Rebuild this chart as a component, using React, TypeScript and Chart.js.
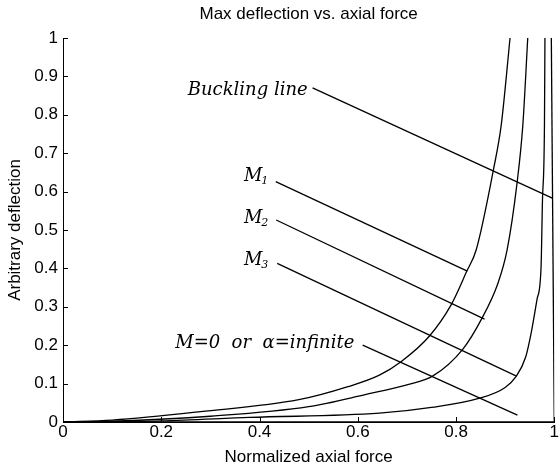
import React, { useEffect, useRef } from "react";
import { Chart, registerables } from "chart.js";

Chart.register(...registerables);

const xTicks = [0, 0.2, 0.4, 0.6, 0.8, 1];
const yTicks = [0, 0.1, 0.2, 0.3, 0.4, 0.5, 0.6, 0.7, 0.8, 0.9, 1];

const m1X = [0, 0.1, 0.28, 0.48, 0.58, 0.644, 0.688, 0.746, 0.79, 0.822, 0.841, 0.876, 0.892, 0.91];
const m1Y = [0, 0.005, 0.027, 0.058, 0.092, 0.122, 0.157, 0.224, 0.305, 0.393, 0.448, 0.656, 0.773, 1.0];

const m2X = [0, 0.1, 0.3, 0.5, 0.617, 0.7, 0.753, 0.814, 0.851, 0.885, 0.904, 0.924, 0.936, 0.946];
const m2Y = [0, 0.002, 0.015, 0.04, 0.072, 0.097, 0.12, 0.19, 0.266, 0.36, 0.448, 0.62, 0.773, 1.0];

const m3X = [0, 0.2, 0.38, 0.644, 0.75, 0.848, 0.9, 0.922, 0.942, 0.953, 0.965, 0.973, 0.976, 0.98, 0.981];
const m3Y = [0, 0.003, 0.012, 0.023, 0.038, 0.062, 0.09, 0.118, 0.17, 0.232, 0.32, 0.4, 0.578, 0.77, 1.0];

const m0X = [0, 1];
const m0Y = [0, 0];

const bucklingX = [1, 0.994];
const bucklingY = [0, 1];

const labelTexts = ["Buckling line", "M", "M", "M", "M=0  or  \u03b1=infinite"];
const labelSubs = ["", "1", "2", "3", ""];
const labelX = [0.498, 0.42, 0.42, 0.42, 0.593];
const labelY = [0.865, 0.641, 0.531, 0.422, 0.206];
const pointerX0 = [0.508, 0.433, 0.434, 0.436, 0.61];
const pointerY0 = [0.87, 0.626, 0.526, 0.413, 0.2];
const pointerX1 = [0.996, 0.823, 0.858, 0.922, 0.925];
const pointerY1 = [0.583, 0.393, 0.268, 0.12, 0.018];

const toPts = (xs: number[], ys: number[]) => xs.map((x, i) => ({ x, y: ys[i] }));

const SANS = "'Liberation Sans', Arial, sans-serif";
const SERIF = "'DejaVu Serif', serif";

const annotationPlugin = {
  id: "annotations",
  afterDraw(chart: any) {
    const { ctx, scales } = chart;
    const xs = scales.x;
    const ys = scales.y;
    ctx.save();
    ctx.strokeStyle = "#000";
    ctx.lineWidth = 1;
    const area = chart.chartArea;
    xTicks.forEach((v) => {
      const px = Math.round(xs.getPixelForValue(v)) + 0.5;
      ctx.beginPath();
      ctx.moveTo(px, area.bottom);
      ctx.lineTo(px, area.bottom - 5);
      ctx.stroke();
    });
    yTicks.forEach((v) => {
      const py = Math.round(ys.getPixelForValue(v)) + 0.5;
      ctx.beginPath();
      ctx.moveTo(area.left, py);
      ctx.lineTo(area.left + 5, py);
      ctx.stroke();
    });
    ctx.lineWidth = 1.3;
    for (let i = 0; i < labelTexts.length; i++) {
      ctx.beginPath();
      ctx.moveTo(xs.getPixelForValue(pointerX0[i]), ys.getPixelForValue(pointerY0[i]));
      ctx.lineTo(xs.getPixelForValue(pointerX1[i]), ys.getPixelForValue(pointerY1[i]));
      ctx.stroke();
    }
    ctx.fillStyle = "#000";
    ctx.textBaseline = "middle";
    for (let i = 0; i < labelTexts.length; i++) {
      const rx = xs.getPixelForValue(labelX[i]);
      const cy = ys.getPixelForValue(labelY[i]);
      const main = labelTexts[i];
      const sub = labelSubs[i];
      const size = 18;
      ctx.font = `italic ${size}px ${SERIF}`;
      const mw = ctx.measureText(main).width;
      let sw = 0;
      if (sub) {
        ctx.font = `italic ${Math.round(size * 0.6)}px ${SERIF}`;
        sw = ctx.measureText(sub).width;
      }
      const x0 = rx - mw - sw;
      ctx.font = `italic ${size}px ${SERIF}`;
      ctx.textAlign = "left";
      ctx.fillText(main, x0, cy);
      if (sub) {
        ctx.font = `italic ${Math.round(size * 0.6)}px ${SERIF}`;
        ctx.fillText(sub, x0 + mw - 1, cy + size * 0.3);
      }
    }
    ctx.restore();
  },
};

export default function App() {
  const ref = useRef<HTMLCanvasElement | null>(null);
  useEffect(() => {
    document.body.style.margin = "0";
    const canvas = ref.current;
    if (!canvas) return;
    const lineDs = (label: string, xs: number[], ys: number[], smooth: boolean) => ({
      label,
      data: toPts(xs, ys),
      borderColor: "#000",
      backgroundColor: "#000",
      borderWidth: 1.3,
      pointRadius: 0,
      fill: false,
      cubicInterpolationMode: smooth ? "monotone" : "default",
      tension: 0,
    });
    const chart = new Chart(canvas, {
      type: "line",
      data: {
        datasets: [
          lineDs("M1", m1X, m1Y, true),
          lineDs("M2", m2X, m2Y, true),
          lineDs("M3", m3X, m3Y, true),
          lineDs("M=0", m0X, m0Y, false),
          lineDs("Buckling line", bucklingX, bucklingY, false),
        ] as any,
      },
      options: {
        animation: false,
        responsive: false,
        layout: { padding: { left: 0, right: 4, top: 0, bottom: 0 } },
        plugins: {
          legend: { display: false },
          tooltip: { enabled: false },
          title: {
            display: true,
            fullSize: false,
            text: "Max deflection vs. axial force",
            color: "#000",
            font: { family: SANS, size: 17, weight: "normal" },
            padding: { top: 4, bottom: 13.6 },
          },
        },
        scales: {
          x: {
            type: "linear",
            min: 0,
            max: 1,
            afterBuildTicks: (s: any) => {
              s.ticks = xTicks.map((v) => ({ value: v }));
            },
            afterFit: (s: any) => {
              s.height = 46;
            },
            grid: { display: false, drawTicks: false },
            border: { display: true, color: "#000", width: 1 },
            ticks: {
              color: "#000",
              font: { family: SANS, size: 17 },
              padding: 0,
              maxRotation: 0,
              callback: (v: any) => String(v),
            },
            title: {
              display: true,
              text: "Normalized axial force",
              color: "#000",
              font: { family: SANS, size: 17 },
              padding: { top: 0, bottom: 0 },
            },
          },
          y: {
            type: "linear",
            min: 0,
            max: 1,
            afterBuildTicks: (s: any) => {
              s.ticks = yTicks.map((v) => ({ value: v }));
            },
            afterFit: (s: any) => {
              s.width = 63;
            },
            grid: { display: false, drawTicks: false },
            border: { display: true, color: "#000", width: 1 },
            ticks: {
              color: "#000",
              font: { family: SANS, size: 17 },
              padding: 5,
              callback: (v: any) => String(v),
            },
            title: {
              display: true,
              text: "Arbitrary deflection",
              color: "#000",
              font: { family: SANS, size: 17 },
              padding: { top: 5, bottom: 5 },
            },
          },
        },
      } as any,
      plugins: [annotationPlugin],
    });
    return () => chart.destroy();
  }, []);
  return (
    <div style={{ width: 559, height: 468 }}>
      <canvas ref={ref} width={559} height={468} style={{ display: "block" }} />
    </div>
  );
}
